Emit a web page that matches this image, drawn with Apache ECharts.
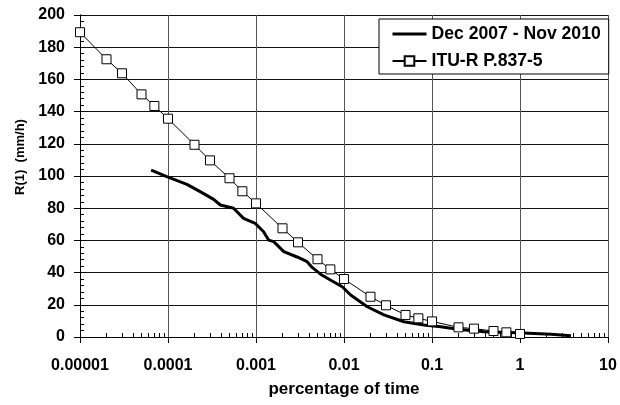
<!DOCTYPE html>
<html>
<head>
<meta charset="utf-8">
<script src="https://cdn.jsdelivr.net/npm/echarts@6/dist/echarts.min.js"></script>
<style>
html,body{margin:0;padding:0;background:#fff;}
#chart{width:620px;height:405px;}
</style>
</head>
<body>
<div id="chart"></div>
<script>
// ---- data ----
var seriesNames = ['Dec 2007 - Nov 2010', 'ITU-R P.837-5'];
var obsX = [6.43e-5, 9.7e-5, 1.64e-4, 2.32e-4, 3.30e-4, 3.93e-4, 5.56e-4, 7.22e-4, 9.8e-4, 1.22e-3, 1.39e-3, 1.59e-3, 2.07e-3, 2.93e-3, 3.81e-3, 4.35e-3, 5.41e-3, 7.0e-3, 9.55e-3, 1.19e-2, 1.84e-2, 2.84e-2, 4.8e-2, 8.1e-2, 0.126, 0.195, 0.39, 0.94, 2.24, 3.79];
var obsY = [103.7, 99.6, 94.8, 90.3, 85.5, 82.0, 80.0, 73.7, 70.6, 65.4, 60.2, 59.2, 53.0, 49.7, 46.8, 43.2, 39.0, 35.4, 31.2, 26.1, 18.8, 13.7, 9.5, 7.5, 6.4, 4.8, 3.3, 2.7, 1.7, 0.8];
var ituX = [1e-5, 2e-5, 3e-5, 5e-5, 7e-5, 1e-4, 2e-4, 3e-4, 5e-4, 7e-4, 1e-3, 2e-3, 3e-3, 5e-3, 7e-3, 1e-2, 2e-2, 3e-2, 5e-2, 7e-2, 0.1, 0.2, 0.3, 0.5, 0.7, 1];
var ituY = [189.3, 172.5, 163.8, 150.7, 143.5, 135.6, 119.4, 109.7, 98.6, 90.5, 83.0, 67.5, 58.8, 48.3, 42.0, 36.0, 25.0, 19.7, 13.7, 11.6, 9.7, 6.0, 5.2, 3.7, 2.9, 1.9];
var xTickLabels = ['0.00001', '0.0001', '0.001', '0.01', '0.1', '1', '10'];
var yTickLabels = ['0', '20', '40', '60', '80', '100', '120', '140', '160', '180', '200'];
var xAxisName = 'percentage of time';
var yAxisName = 'R(1)  (mm/h)';

// ---- build ----
function pairs(xs, ys) { return xs.map(function (x, i) { return [x, ys[i]]; }); }
var minorX = [];
for (var d = -5; d < 1; d++) {
  for (var k = 2; k <= 9; k++) minorX.push(k * Math.pow(10, d));
}
var FONT = '"Liberation Sans", Arial, Helvetica, sans-serif';
var TICK = '#000';

var chart = echarts.init(document.getElementById('chart'), null, {renderer: 'canvas'});
chart.setOption({
  backgroundColor: '#fff',
  animation: false,
  grid: {left: 80, right: 12, top: 15, bottom: 68, containLabel: false},
  legend: {
    orient: 'vertical',
    left: 379, top: 19,
    padding: [6, 8, 4, 12],
    itemGap: 9,
    itemWidth: 34, itemHeight: 12,
    backgroundColor: '#fff',
    borderColor: '#000', borderWidth: 1, borderRadius: 0,
    textStyle: {fontFamily: FONT, fontSize: 17.6, fontWeight: 'bold', color: '#000'},
    data: [{name: seriesNames[0], lineStyle: {width: 3}}, {name: seriesNames[1]}]
  },
  xAxis: [{
    type: 'log', logBase: 10, min: 1e-5, max: 10, interval: 1,
    name: xAxisName, nameLocation: 'middle', nameGap: 44,
    nameTextStyle: {fontFamily: FONT, fontSize: 17, fontWeight: 'bold', color: '#000'},
    axisLine: {show: true, lineStyle: {color: '#000', width: 1}},
    axisTick: {show: true, inside: false, length: 6, lineStyle: {color: TICK, width: 1}},
    axisLabel: {
      fontFamily: FONT, fontSize: 16, fontWeight: 'bold', color: '#000', margin: 21,
      formatter: function (v) { return xTickLabels[Math.round(Math.log10(v)) + 5]; }
    },
    splitLine: {show: true, lineStyle: {color: '#555', width: 1}}
  }, {
    type: 'log', logBase: 10, min: 1e-5, max: 10, position: 'bottom',
    axisLine: {show: true, lineStyle: {color: '#000', width: 1}},
    axisLabel: {show: false},
    splitLine: {show: false},
    axisTick: {show: true, inside: true, length: 4, customValues: minorX, lineStyle: {color: TICK, width: 1}}
  }],
  yAxis: [{
    type: 'value', min: 0, max: 200, interval: 20,
    name: yAxisName, nameLocation: 'middle', nameGap: 53, nameRotate: 90,
    nameTextStyle: {fontFamily: FONT, fontSize: 13, fontWeight: 'bold', color: '#000', padding: [0, 0, 0, 38]},
    axisLine: {show: true, lineStyle: {color: '#000', width: 1}},
    axisTick: {show: true, inside: true, length: 6, lineStyle: {color: TICK, width: 1}},
    minorTick: {show: true, splitNumber: 5, length: 4, lineStyle: {color: TICK, width: 1}},
    axisLabel: {
      fontFamily: FONT, fontSize: 16, fontWeight: 'bold', color: '#000', margin: 15,
      formatter: function (v) { return yTickLabels[Math.round(v / 20)]; }
    },
    splitLine: {show: true, lineStyle: {color: '#111', width: 1}}
  }, {
    type: 'value', min: 0, max: 200, interval: 20, position: 'left',
    axisLine: {show: true, lineStyle: {color: '#000', width: 1}},
    axisLabel: {show: false},
    splitLine: {show: false},
    axisTick: {show: true, inside: false, length: 6, lineStyle: {color: TICK, width: 1}}
  }],
  series: [{
    name: seriesNames[0], type: 'line', xAxisIndex: 0, yAxisIndex: 0,
    data: pairs(obsX, obsY),
    showSymbol: false, symbol: 'rect', symbolSize: 1, smooth: false,
    lineStyle: {color: '#000', width: 3},
    itemStyle: {color: 'rgba(0,0,0,0)', borderWidth: 0},
    z: 3
  }, {
    name: seriesNames[1], type: 'line', xAxisIndex: 0, yAxisIndex: 0,
    data: pairs(ituX, ituY),
    symbol: 'rect', symbolSize: 9, showSymbol: true,
    lineStyle: {color: '#000', width: 1},
    itemStyle: {color: '#fff', borderColor: '#000', borderWidth: 1},
    z: 4
  }]
});
</script>
</body>
</html>
